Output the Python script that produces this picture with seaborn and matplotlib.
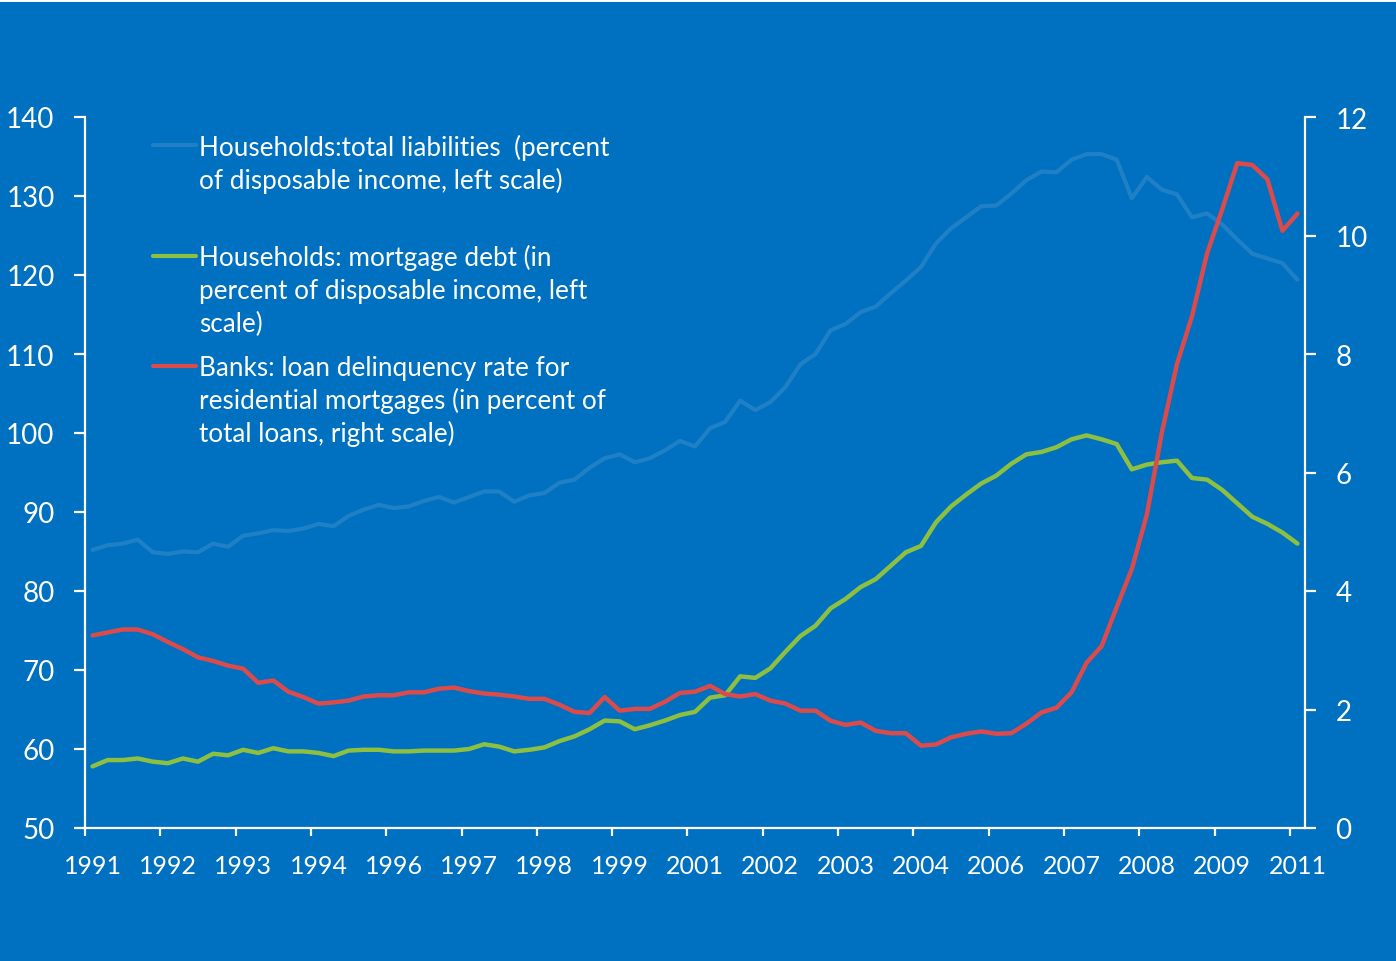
import numpy as np
import pandas as pd
import matplotlib
matplotlib.use("Agg")
import matplotlib.pyplot as plt
from matplotlib.lines import Line2D
from matplotlib.patches import Rectangle
import seaborn as sns

# Quarterly observations, 1991Q1 .. 2011Q1
quarters = pd.period_range("1991Q1", "2011Q1", freq="Q").astype(str).tolist()

# Category-axis labels, one every fifth quarter
tick_labels = ["1991", "1992", "1993", "1994", "1996", "1997", "1998", "1999",
               "2001", "2002", "2003", "2004", "2006", "2007", "2008", "2009", "2011"]

# Households: total liabilities, % of disposable income (left scale)
total_liabilities = [
    85.2, 85.8, 86.0, 86.5, 84.9, 84.7, 85.0, 84.9, 86.0, 85.6,
    87.0, 87.3, 87.7, 87.6, 87.9, 88.5, 88.2, 89.5, 90.3, 90.9,
    90.5, 90.7, 91.4, 91.9, 91.2, 91.9, 92.6, 92.6, 91.3, 92.1,
    92.4, 93.7, 94.1, 95.6, 96.8, 97.3, 96.3, 96.8, 97.8, 99.0,
    98.3, 100.6, 101.4, 104.1, 102.9, 103.9, 105.8, 108.7, 110.0, 113.0,
    113.8, 115.3, 116.0, 117.7, 119.3, 121.0, 124.0, 125.9, 127.3, 128.7,
    128.8, 130.3, 132.0, 133.1, 133.0, 134.6, 135.3, 135.3, 134.6, 129.7,
    132.4, 130.8, 130.2, 127.3, 127.8, 126.4, 124.5, 122.7, 122.1, 121.5,
    119.4,
]

# Households: mortgage debt, % of disposable income (left scale)
mortgage_debt = [
    57.8, 58.6, 58.6, 58.8, 58.4, 58.2, 58.8, 58.4, 59.4, 59.2,
    59.9, 59.5, 60.1, 59.7, 59.7, 59.5, 59.1, 59.8, 59.9, 59.9,
    59.7, 59.7, 59.8, 59.8, 59.8, 60.0, 60.6, 60.3, 59.7, 59.9,
    60.2, 61.0, 61.6, 62.5, 63.6, 63.5, 62.5, 63.0, 63.6, 64.3,
    64.7, 66.5, 66.8, 69.2, 69.0, 70.2, 72.3, 74.3, 75.6, 77.8,
    79.0, 80.5, 81.5, 83.2, 84.9, 85.7, 88.7, 90.7, 92.2, 93.6,
    94.6, 96.1, 97.3, 97.6, 98.2, 99.2, 99.7, 99.2, 98.6, 95.4,
    96.0, 96.3, 96.5, 94.3, 94.1, 92.8, 91.1, 89.4, 88.5, 87.4,
    86.0,
]

# Banks: delinquency rate on residential mortgages, % of total loans (right scale)
delinquency_rate = [
    3.25, 3.30, 3.35, 3.35, 3.27, 3.14, 3.02, 2.88, 2.82, 2.74,
    2.69, 2.45, 2.49, 2.30, 2.21, 2.10, 2.12, 2.15, 2.22, 2.24,
    2.24, 2.29, 2.29, 2.35, 2.37, 2.31, 2.27, 2.25, 2.22, 2.18,
    2.18, 2.08, 1.96, 1.94, 2.21, 1.98, 2.01, 2.01, 2.13, 2.28,
    2.30, 2.40, 2.26, 2.22, 2.26, 2.15, 2.10, 1.98, 1.98, 1.81,
    1.74, 1.78, 1.64, 1.60, 1.60, 1.39, 1.41, 1.53, 1.59, 1.63,
    1.59, 1.60, 1.76, 1.95, 2.03, 2.29, 2.79, 3.07, 3.73, 4.37,
    5.29, 6.68, 7.83, 8.64, 9.70, 10.44, 11.22, 11.19, 10.95, 10.08,
    10.37,
]

legend_labels = [
    "Households:total liabilities  (percent\nof disposable income, left scale)",
    "Households: mortgage debt (in\npercent of disposable income, left\nscale)",
    "Banks: loan delinquency rate for\nresidential mortgages (in percent of\ntotal loans, right scale)",
]

BG = "#0070C0"
C_LIAB = "#1F80C6"
C_MORT = "#8DBF41"
C_DELQ = "#DC4B4B"
WHITE = "#FFFFFF"

sns.set_style("ticks")
plt.rcParams["font.family"] = ["Lato", "DejaVu Sans"]

df = pd.DataFrame({
    "pos": np.arange(len(quarters)),
    "quarter": quarters,
    "liabilities": total_liabilities,
    "mortgage": mortgage_debt,
    "delinquency": delinquency_rate,
})

W, H = 1396, 962
fig = plt.figure(figsize=(W / 100, H / 100), dpi=100, facecolor=BG)
ax = fig.add_axes([85 / W, 1 - 829 / H, 1220 / W, 711 / H])
ax.set_facecolor(BG)

sns.lineplot(data=df, x="pos", y="liabilities", ax=ax, color=C_LIAB, lw=3.0)
sns.lineplot(data=df, x="pos", y="mortgage", ax=ax, color=C_MORT, lw=3.2)
ax2 = ax.twinx()
sns.lineplot(data=df, x="pos", y="delinquency", ax=ax2, color=C_DELQ, lw=3.2)

n = len(quarters)
ax.set_xlim(-0.5, n - 0.5)
ax.set_ylim(50, 140)
ax2.set_ylim(0, 12)
ax.set_yticks(np.arange(50, 141, 10))
ax2.set_yticks(np.arange(0, 13, 2))

# tick marks sit between categories, labels under every fifth category
ax.set_xticks(np.arange(-0.5, n - 1, 5))
ax.set_xticklabels([])
ax.set_xticks(np.arange(0, n, 5), minor=True)
ax.set_xticklabels(tick_labels, minor=True)

for a in (ax, ax2):
    a.set_xlabel("")
    a.set_ylabel("")
    for s in a.spines.values():
        s.set_color(WHITE)
        s.set_linewidth(1.6)
    a.spines["top"].set_visible(False)

ax.spines["right"].set_visible(False)
ax2.spines["left"].set_visible(False)
ax2.spines["bottom"].set_visible(False)

ax.tick_params(axis="y", which="major", direction="out", length=8, width=1.6,
               color=WHITE, labelcolor=WHITE, labelsize=20, pad=14)
ax2.tick_params(axis="y", which="major", direction="out", length=8, width=1.6,
                color=WHITE, labelcolor=WHITE, labelsize=20, pad=14)
ax.tick_params(axis="x", which="major", direction="out", length=6, width=1.6,
               color=WHITE)
ax.tick_params(axis="x", which="minor", length=0, labelcolor=WHITE,
               labelsize=18, pad=19)

# legend block: swatch level with the first text line of each entry
handle_x = (153 / W, 196 / W)
text_x = 199 / W
pitch = 33
line_ys = [146, 257, 367]
first_baselines = [156, 266, 376]
colors = [C_LIAB, C_MORT, C_DELQ]
for lbl, ly, by, c in zip(legend_labels, line_ys, first_baselines, colors):
    fig.add_artist(Line2D(handle_x, [1 - ly / H] * 2, color=c, lw=3.0,
                          transform=fig.transFigure))
    n_lines = lbl.count("\n")
    for k, part in enumerate(lbl.split("\n")):
        fig.text(text_x, 1 - (by + k * pitch) / H, part, color=WHITE,
                 fontsize=18.8, ha="left", va="baseline")

# thin white strip along the top edge
fig.add_artist(Rectangle((0, 1 - 3 / H), 1, 3 / H, transform=fig.transFigure,
                         facecolor=WHITE, edgecolor="none"))

fig.savefig("out.png", dpi=100, facecolor=BG)
